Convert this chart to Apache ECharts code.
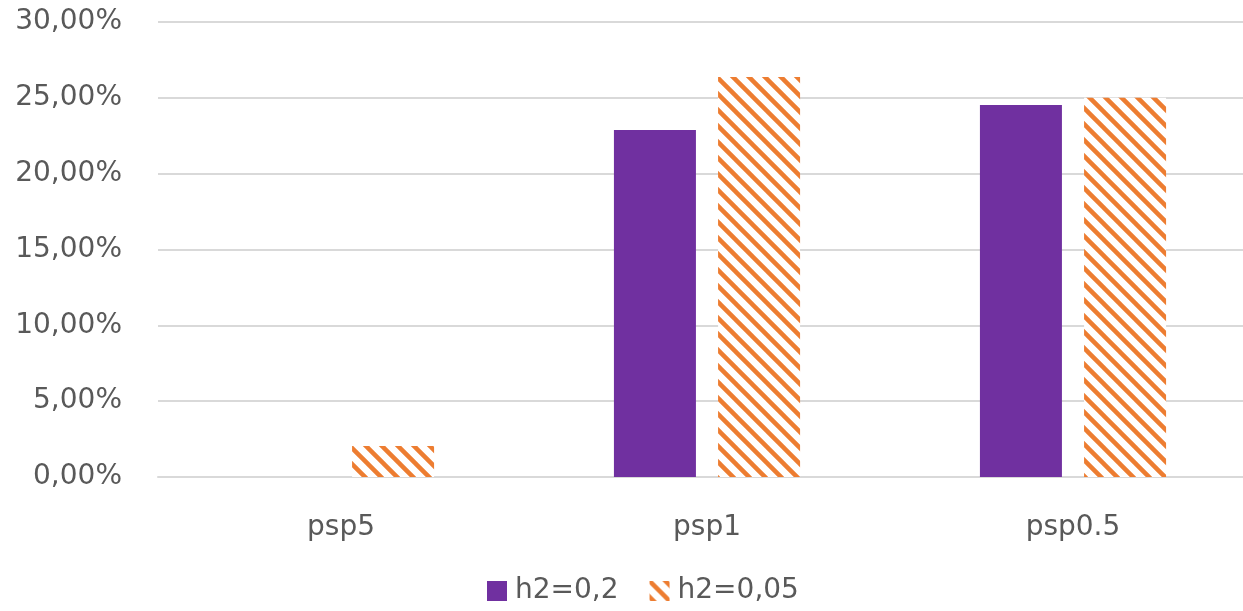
<!DOCTYPE html>
<html>
<head>
<meta charset="utf-8">
<script src="https://cdn.jsdelivr.net/npm/echarts@6/dist/echarts.min.js"></script>
<style>
  html, body { margin: 0; padding: 0; background: #ffffff; overflow: hidden; }
  #chart { width: 1256px; height: 611px; }
</style>
</head>
<body>
<div id="chart"></div>
<script>
// Categories and series values (fractions, shown as percentages)
const categories = ['psp5', 'psp1', 'psp0.5'];
const seriesNames = ['h2=0,2', 'h2=0,05'];
const valuesH02 = [0, 0.2288, 0.2453];
const valuesH005 = [0.0204, 0.2637, 0.2500];
const yTicks = [0, 0.05, 0.10, 0.15, 0.20, 0.25, 0.30];

const PURPLE = '#7030a0';
const ORANGE = '#ed7d31';
const TEXT = '#595959';
const FONT = '"DejaVu Sans", sans-serif';

// Diagonal hatch tile (stripes running top-left to bottom-right)
function makeHatch(color, size, thick) {
  const c = document.createElement('canvas');
  c.width = size; c.height = size;
  const ctx = c.getContext('2d');
  ctx.fillStyle = '#ffffff';
  ctx.fillRect(0, 0, size, size);
  ctx.strokeStyle = color;
  ctx.lineWidth = thick;
  ctx.lineCap = 'square';
  for (let k = -1; k <= 1; k++) {
    ctx.beginPath();
    ctx.moveTo(k * size - size, -size);
    ctx.lineTo(k * size + 2 * size, 2 * size);
    ctx.stroke();
  }
  return c;
}
const hatch = makeHatch(ORANGE, 16, 4.5);

function pct(v) {
  return (v * 100).toFixed(2).replace('.', ',') + '%';
}

const chart = echarts.init(document.getElementById('chart'), null, { renderer: 'canvas' });
chart.setOption({
  animation: false,
  backgroundColor: '#ffffff',
  grid: { left: 158, top: 22, right: 0, height: 455, containLabel: false },
  legend: {
    top: 572,
    left: 482,
    itemWidth: 20,
    itemHeight: 20,
    itemGap: 31,
    textStyle: { color: TEXT, fontSize: 28, fontFamily: FONT, padding: [0, 0, 0, 3] },
    data: [
      { name: seriesNames[0], icon: 'rect' },
      { name: seriesNames[1], icon: 'rect' }
    ]
  },
  xAxis: {
    type: 'category',
    data: categories,
    axisLine: { show: true, lineStyle: { color: '#d9d9d9', width: 2 } },
    axisTick: { show: false },
    axisLabel: { color: TEXT, fontSize: 28, fontFamily: FONT, margin: 37 }
  },
  yAxis: {
    type: 'value',
    min: yTicks[0],
    max: yTicks[yTicks.length - 1],
    interval: 0.05,
    axisLine: { show: false },
    axisTick: { show: false },
    splitLine: { lineStyle: { color: '#d9d9d9', width: 2 } },
    axisLabel: {
      color: TEXT, fontSize: 28, fontFamily: FONT, margin: 36,
      formatter: pct
    }
  },
  series: [
    {
      name: seriesNames[0],
      type: 'bar',
      data: valuesH02,
      barWidth: 82,
      barGap: '27%',
      itemStyle: { color: PURPLE }
    },
    {
      name: seriesNames[1],
      type: 'bar',
      data: valuesH005,
      barWidth: 82,
      itemStyle: { color: { image: hatch, repeat: 'repeat' } }
    }
  ]
});
</script>
</body>
</html>
